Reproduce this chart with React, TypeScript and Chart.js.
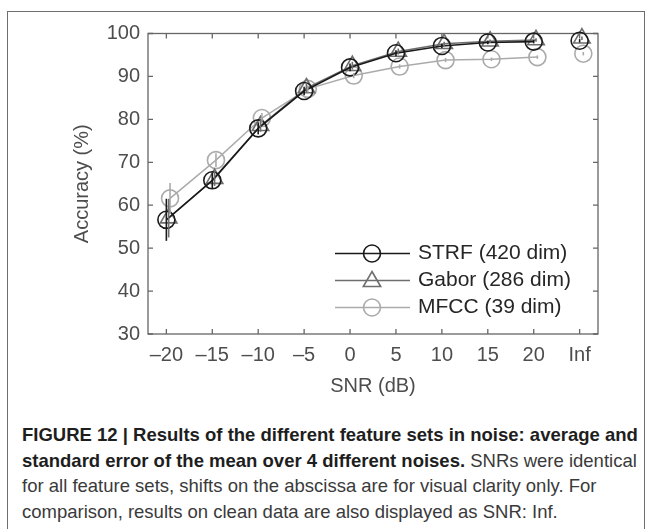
import React, { useEffect, useRef } from 'react';
import { Chart, registerables } from 'chart.js';

Chart.register(...registerables);

// ---- data ----
const snrLevels = [-20, -15, -10, -5, 0, 5, 10, 15, 20, 25];
const snrTickLabels = ['\u201320', '\u201315', '\u201310', '\u20135', '0', '5', '10', '15', '20', 'Inf'];
const accuracyTicks = [30, 40, 50, 60, 70, 80, 90, 100];

const strfAcc = [56.6, 65.8, 77.9, 86.6, 92.1, 95.4, 97.1, 97.9, 98.1, 98.3];
const strfErr = [4.9, 1.8, 1.4, 1.0, 0.9, 0.7, 0.5, 0.4, 0.4, 0.4];
const gaborAcc = [57.0, 66.2, 78.5, 87.3, 92.5, 95.8, 97.6, 98.2, 98.5, 98.9];
const gaborErr = [4.5, 1.7, 1.4, 1.0, 0.9, 0.7, 0.5, 0.4, 0.4, 0.4];
const mfccAcc = [61.6, 70.5, 80.3, 87.1, 90.2, 92.3, 93.8, 94.0, 94.5, 95.3];
const mfccErr = [3.6, 1.6, 1.2, 0.8, 0.6, 0.5, 0.5, 0.4, 0.4, 0.4];

const gaborShift = 0.25;
const mfccShift = 0.4;

const FONT = '"Liberation Sans", Arial, Helvetica, sans-serif';

type Series = {
  label: string;
  values: number[];
  err: number[];
  shift: number;
  color: string;
  lineWidth: number;
  marker: 'circle' | 'triangle';
};

const seriesList: Series[] = [
  { label: 'STRF (420 dim)', values: strfAcc, err: strfErr, shift: 0, color: '#1a1a1a', lineWidth: 1.6, marker: 'circle' },
  { label: 'Gabor (286 dim)', values: gaborAcc, err: gaborErr, shift: gaborShift, color: '#6e6e6e', lineWidth: 1.4, marker: 'triangle' },
  { label: 'MFCC (39 dim)', values: mfccAcc, err: mfccErr, shift: mfccShift, color: '#ababab', lineWidth: 1.5, marker: 'circle' },
];

const MARKER_R = 8.5;

function drawMarker(ctx: CanvasRenderingContext2D, kind: string, x: number, y: number, r: number) {
  ctx.beginPath();
  if (kind === 'circle') {
    ctx.arc(x, y, r, 0, Math.PI * 2);
  } else {
    for (let k = 0; k < 3; k++) {
      const a = -Math.PI / 2 + (k * 2 * Math.PI) / 3;
      const px = x + Math.cos(a) * r;
      const py = y + Math.sin(a) * r;
      if (k === 0) ctx.moveTo(px, py);
      else ctx.lineTo(px, py);
    }
    ctx.closePath();
  }
  ctx.stroke();
}

const boxPlugin = {
  id: 'matlabBox',
  beforeDatasetsDraw(chart: any) {
    const { ctx, chartArea, scales } = chart;
    const { left, right, top, bottom } = chartArea;
    ctx.save();
    ctx.strokeStyle = '#666666';
    ctx.lineWidth = 1.3;
    ctx.strokeRect(left, top, right - left, bottom - top);
    const tl = 5;
    ctx.beginPath();
    snrLevels.forEach((v) => {
      const px = scales.x.getPixelForValue(v);
      ctx.moveTo(px, bottom);
      ctx.lineTo(px, bottom - tl);
      ctx.moveTo(px, top);
      ctx.lineTo(px, top + tl);
    });
    accuracyTicks.forEach((v) => {
      const py = scales.y.getPixelForValue(v);
      ctx.moveTo(left, py);
      ctx.lineTo(left + tl, py);
      ctx.moveTo(right, py);
      ctx.lineTo(right - tl, py);
    });
    ctx.stroke();
    ctx.restore();
  },
};

const errorBarPlugin = {
  id: 'errorBars',
  afterDatasetsDraw(chart: any) {
    const { ctx, scales } = chart;
    ctx.save();
    [...seriesList].reverse().forEach((s) => {
      ctx.strokeStyle = s.color;
      ctx.lineWidth = 1.6;
      s.values.forEach((v, i) => {
        const px = scales.x.getPixelForValue(snrLevels[i] + s.shift);
        ctx.beginPath();
        ctx.moveTo(px, scales.y.getPixelForValue(v - s.err[i]));
        ctx.lineTo(px, scales.y.getPixelForValue(v + s.err[i]));
        ctx.stroke();
      });
    });
    ctx.restore();
  },
};

const legendPlugin = {
  id: 'matlabLegend',
  afterDraw(chart: any) {
    const { ctx, chartArea } = chart;
    const { left, top } = chartArea;
    const x0 = left + 187;
    const x1 = left + 262;
    const mx = left + 224;
    const tx = left + 270;
    ctx.save();
    seriesList.forEach((s, i) => {
      const y = top + 220 + i * 27;
      ctx.strokeStyle = s.color;
      ctx.lineWidth = s.lineWidth;
      ctx.beginPath();
      ctx.moveTo(x0, y);
      ctx.lineTo(x1, y);
      ctx.stroke();
      ctx.lineWidth = 1.6;
      drawMarker(ctx, s.marker, mx, s.marker === 'triangle' ? y + 1 : y, s.marker === 'triangle' ? 10 : MARKER_R);
      ctx.fillStyle = '#262626';
      ctx.font = `21px ${FONT}`;
      ctx.textBaseline = 'middle';
      ctx.textAlign = 'left';
      ctx.fillText(s.label, tx, y);
    });
    ctx.restore();
  },
};

export default function App() {
  const canvasRef = useRef<HTMLCanvasElement>(null);

  useEffect(() => {
    document.body.style.margin = '0';
    const canvas = canvasRef.current;
    if (!canvas) return;

    const datasets = seriesList.map((s) => ({
      label: s.label,
      data: s.values.map((y, i) => ({ x: snrLevels[i] + s.shift, y })),
      borderColor: s.color,
      borderWidth: s.lineWidth,
      pointStyle: s.marker,
      pointRadius: s.marker === 'triangle' ? 9.5 : MARKER_R,
      pointBorderWidth: 1.6,
      pointBorderColor: s.color,
      pointBackgroundColor: 'rgba(0,0,0,0)',
      fill: false,
      tension: 0,
      clip: false as any,
      segment: {
        borderColor: (c: any) => (c.p1DataIndex === snrLevels.length - 1 ? 'rgba(0,0,0,0)' : undefined),
      },
    }));

    const chart = new Chart(canvas, {
      type: 'line',
      data: { datasets },
      plugins: [boxPlugin, errorBarPlugin, legendPlugin],
      options: {
        responsive: false,
        animation: false,
        events: [],
        layout: { padding: { left: 62, top: 21.5, right: 40, bottom: 12 } },
        plugins: {
          legend: { display: false },
          tooltip: { enabled: false },
        },
        scales: {
          x: {
            type: 'linear',
            min: -22,
            max: 27,
            afterBuildTicks: (scale: any) => {
              scale.ticks = snrLevels.map((v) => ({ value: v }));
            },
            afterFit: (scale: any) => {
              scale.height = 66;
            },
            grid: { display: false, drawTicks: false },
            border: { display: false },
            ticks: {
              autoSkip: false,
              maxRotation: 0,
              padding: 9,
              color: '#4d4d4d',
              font: { family: FONT, size: 20 },
              callback: (_v: any, i: number) => snrTickLabels[i],
            },
            title: {
              display: true,
              text: 'SNR (dB)',
              color: '#4d4d4d',
              font: { family: FONT, size: 20 },
              padding: { top: 0, bottom: 2 },
            },
          },
          y: {
            type: 'linear',
            min: 30,
            max: 100,
            afterBuildTicks: (scale: any) => {
              scale.ticks = accuracyTicks.map((v) => ({ value: v }));
            },
            afterFit: (scale: any) => {
              scale.width = 78;
            },
            grid: { display: false, drawTicks: false },
            border: { display: false },
            ticks: {
              padding: 8,
              color: '#4d4d4d',
              font: { family: FONT, size: 20 },
            },
            title: {
              display: true,
              text: 'Accuracy (%)',
              color: '#4d4d4d',
              font: { family: FONT, size: 20 },
              padding: { top: 0, bottom: 0 },
            },
          },
        },
      },
    });

    return () => chart.destroy();
  }, []);

  return (
    <div style={{ position: 'relative', width: 652, height: 529, overflow: 'hidden', background: '#ffffff' }}>
      <div
        style={{
          position: 'absolute',
          left: 7,
          top: 11,
          width: 638,
          height: 560,
          border: '1px solid #6e6e6e',
          boxSizing: 'border-box',
        }}
      />
      <canvas
        ref={canvasRef}
        width={630}
        height={400}
        style={{ position: 'absolute', left: 8, top: 12, width: 630, height: 400, display: 'block' }}
      />
      <div
        style={{
          position: 'absolute',
          left: 22,
          top: 422,
          fontFamily: FONT,
          fontSize: 18.5,
          lineHeight: '25.5px',
          whiteSpace: 'nowrap',
          color: '#3a3a3a',
        }}
      >
        <b style={{ color: '#1e1e1e' }}>
          FIGURE 12 | Results of the different feature sets in noise: average and
          <br />
          standard error of the mean over 4 different noises.
        </b>{' '}
        SNRs were identical
        <br />
        for all feature sets, shifts on the abscissa are for visual clarity only. For
        <br />
        comparison, results on clean data are also displayed as SNR: Inf.
      </div>
    </div>
  );
}
